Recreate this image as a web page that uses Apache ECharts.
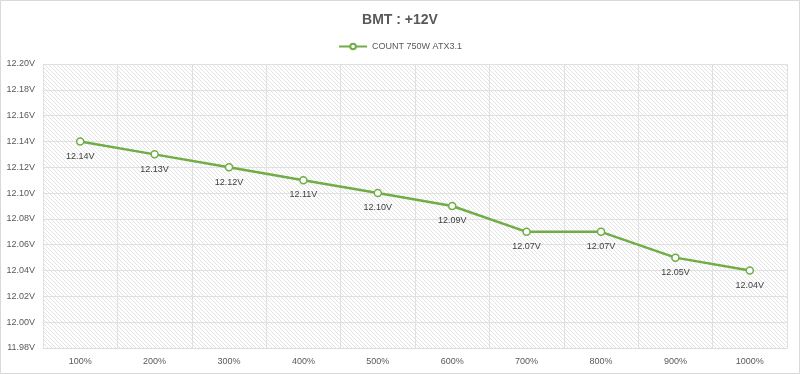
<!DOCTYPE html>
<html><head><meta charset="utf-8">
<script src="https://cdn.jsdelivr.net/npm/echarts@6/dist/echarts.min.js"></script>
<style>html,body{margin:0;padding:0;background:#fff}#c{width:800px;height:374px}</style>
</head><body><div id="c"></div>
<script>
const categories = ['100%','200%','300%','400%','500%','600%','700%','800%','900%','1000%'];
const seriesName = 'COUNT 750W ATX3.1';
const values = [12.14, 12.13, 12.12, 12.11, 12.10, 12.09, 12.07, 12.07, 12.05, 12.04];
const yMin = 11.98, yMax = 12.20, yStep = 0.02;

const pc = document.createElement('canvas');
pc.width = 4; pc.height = 4;
const g = pc.getContext('2d');
g.fillStyle = '#ffffff'; g.fillRect(0,0,4,4);
g.strokeStyle = '#e4e4e4'; g.lineWidth = 1;
g.beginPath(); g.moveTo(-1,-1); g.lineTo(5,5); g.stroke();
g.beginPath(); g.moveTo(-1,3); g.lineTo(1,5); g.stroke();
g.beginPath(); g.moveTo(3,-1); g.lineTo(5,1); g.stroke();

const chart = echarts.init(document.getElementById('c'));
chart.setOption({
  animation: false,
  backgroundColor: '#fff',
  graphic: [{type:'rect', shape:{x:0.5,y:0.5,width:799,height:373}, style:{fill:'none', stroke:'#d9d9d9', lineWidth:1}, silent:true}],
  title: {text: 'BMT : +12V', left: 'center', top: 8, textStyle: {fontFamily: 'Liberation Sans', fontSize: 14, fontWeight: 'bold', color: '#595959'}},
  legend: {top: 37, left: 'center', itemWidth: 28, itemHeight: 7, textStyle: {fontFamily: 'Liberation Sans', fontSize: 9, color: '#595959'}, data: [seriesName]},
  grid: {left: 43, right: 13, top: 64, bottom: 26, show: true, borderWidth: 0, backgroundColor: {image: pc, repeat: 'repeat'}},
  xAxis: {type: 'category', data: categories, boundaryGap: true,
    axisLine: {show: true, lineStyle: {color: '#dcdcdc'}}, axisTick: {show: false},
    axisLabel: {fontFamily: 'Liberation Sans', fontSize: 9, color: '#595959', margin: 9},
    splitLine: {show: true, lineStyle: {color: '#e0e0e0', width: 1}}},
  yAxis: {type: 'value', min: yMin, max: yMax, interval: yStep,
    axisLine: {show: false}, axisTick: {show: false},
    axisLabel: {fontFamily: 'Liberation Sans', fontSize: 9, color: '#595959', margin: 8, formatter: v => v.toFixed(2) + 'V'},
    splitLine: {lineStyle: {color: '#e0e0e0', width: 1}}},
  series: [{name: seriesName, type: 'line', data: values,
    symbol: 'circle', symbolSize: 7, showAllSymbol: true,
    lineStyle: {color: '#70ad47', width: 2.5},
    itemStyle: {color: '#ffffff', borderColor: '#70ad47', borderWidth: 1.5},
    label: {show: true, position: 'bottom', distance: 6, fontFamily: 'Liberation Sans', fontSize: 9, color: '#404040', formatter: p => p.value.toFixed(2) + 'V'}}]
});
</script></body></html>
